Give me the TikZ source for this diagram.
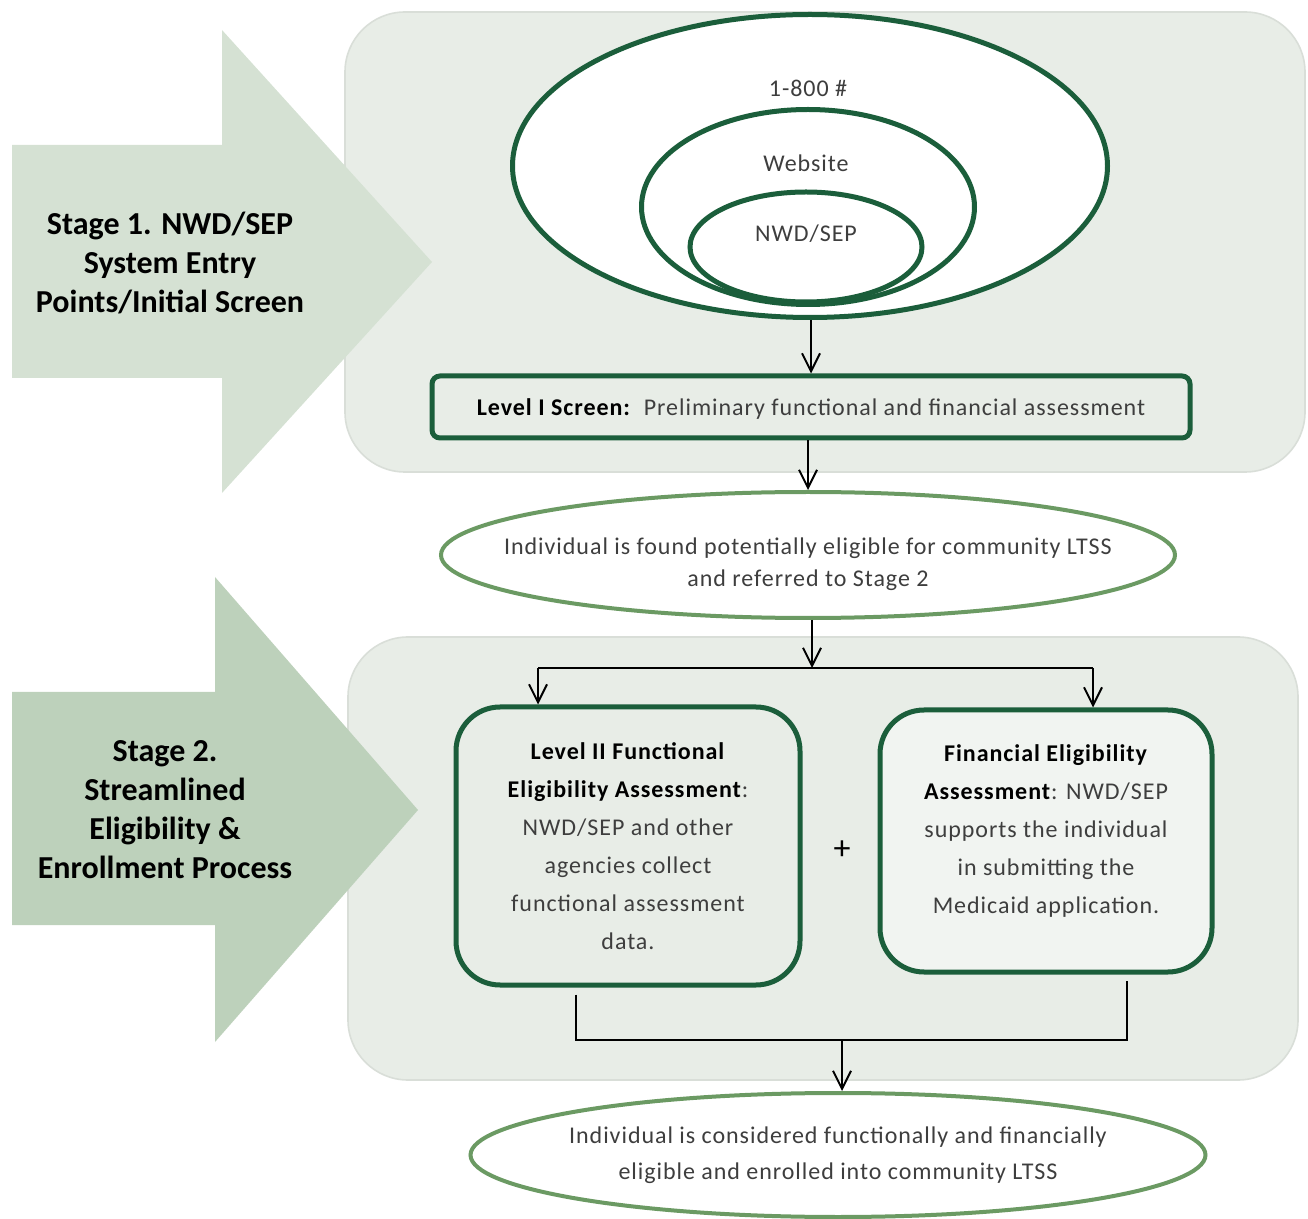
\documentclass[tikz,border=0pt]{standalone}
\usepackage{fontspec}
\setmainfont{Carlito}
\usetikzlibrary{shapes.geometric,arrows.meta}

\definecolor{darkgreen}{HTML}{1B5E3B}
\definecolor{ovalgreen}{HTML}{6B9A63}
\definecolor{panelfill}{HTML}{E8EDE7}
\definecolor{paneledge}{HTML}{D9DED8}
\definecolor{arrowone}{HTML}{D5E1D3}
\definecolor{arrowtwo}{HTML}{BDD1BB}
\definecolor{bodygray}{HTML}{3E3E3E}

\newfontfamily\spacedfont[LetterSpace=4]{Carlito}

\tikzset{
  panel/.style={fill=panelfill, draw=paneledge, line width=0.8pt, rounded corners=30pt},
  ring/.style={ellipse, draw=darkgreen, line width=2.5pt, fill=white, inner sep=0pt},
  greenbox/.style={draw=darkgreen, line width=2.5pt, inner sep=0pt},
  oval/.style={ellipse, draw=ovalgreen, line width=2pt, fill=white, inner sep=0pt},
  bodytext/.style={align=center, text=bodygray, font=\spacedfont\fontsize{12}{16}\selectfont},
  boxtext/.style={align=center, text=bodygray, font=\spacedfont\fontsize{12}{19}\selectfont},
  stagetext/.style={align=center, font=\fontsize{16}{19.5}\selectfont\bfseries},
  flow/.style={line width=1pt, -{Straight Barb[length=9pt,width=9pt]}},
  link/.style={line width=1pt},
}

\begin{document}
\begin{tikzpicture}[x=0.5pt, y=-0.5pt]
  \useasboundingbox (0,0) rectangle (1308,1219);

  % background panels
  \draw[panel] (345,12) rectangle (1305,472);
  \draw[panel] (348,637) rectangle (1298,1080);

  % stage arrows
  \fill[arrowone] (12,145) -- (222,145) -- (222,30) -- (432,262) -- (222,493) -- (222,378) -- (12,378) -- cycle;
  \fill[arrowtwo] (12,692) -- (215,692) -- (215,577) -- (418,810) -- (215,1042) -- (215,925) -- (12,925) -- cycle;
  \node[stagetext] (stageone) at (170,263) {Stage 1. NWD/SEP\\System Entry\\Points/Initial Screen};
  \node[stagetext] (stagetwo) at (165,810) {Stage 2.\\Streamlined\\Eligibility \&\\Enrollment Process};

  % entry points
  \node[ring, minimum width=297.5pt, minimum height=151.5pt] (phone) at (810,166) {};
  \node[ring, minimum width=166.5pt, minimum height=97.5pt] (website) at (808,207) {};
  \node[ring, minimum width=116pt, minimum height=55pt] (entry) at (806,247) {};
  \node[bodytext] (phonelbl) at (808,88) {1-800 \#};
  \node[bodytext] (weblbl) at (806,163) {Website};
  \node[bodytext] (entrylbl) at (806,234) {NWD/SEP};

  \node[greenbox, rounded corners=4pt, minimum width=379pt, minimum height=31pt] (screen) at (811,407) {};
  \node[bodytext] (screenlbl) at ([yshift=-1pt]screen.center) {\textcolor{black}{\textbf{Level I Screen:}}~~Preliminary functional and financial assessment};

  \node[oval, minimum width=367pt, minimum height=63pt] (found) at (808,555) {};
  \node[bodytext] (foundlbl) at ([yshift=-4.5pt]found.center) {Individual is found potentially eligible for community LTSS\\and referred to Stage 2};

  % stage 2 boxes
  \node[greenbox, rounded corners=22pt, fill=panelfill, minimum width=172pt, minimum height=139pt] (functional) at (628,846) {};
  \node[boxtext] (functionallbl) at (functional.center) {\textcolor{black}{\textbf{Level II Functional}}\\\textcolor{black}{\textbf{Eligibility Assessment}}:\\NWD/SEP and other\\agencies collect\\functional assessment\\data.};
  \node[greenbox, rounded corners=22pt, fill=panelfill!60!white, minimum width=166pt, minimum height=131pt] (financial) at (1046,841) {};
  \node[boxtext] (financiallbl) at ([yshift=5pt]financial.center) {\textcolor{black}{\textbf{Financial Eligibility}}\\\textcolor{black}{\textbf{Assessment}}: NWD/SEP\\supports the individual\\in submitting the\\Medicaid application.};
  \node[font=\fontsize{17}{17}\selectfont] (plus) at (842,850) {+};

  \node[oval, minimum width=367.5pt, minimum height=62pt] (enrolled) at (838,1155) {};
  \node[bodytext, font=\spacedfont\fontsize{12}{18}\selectfont] (enrolledlbl) at (enrolled.center) {Individual is considered functionally and financially\\eligible and enrolled into community LTSS};

  % connectors
  \coordinate (split) at (812,668);
  \coordinate (splitL) at (538,668);
  \coordinate (splitR) at (1093,668);
  \coordinate (joinL) at (576,1040);
  \coordinate (joinR) at (1127,1040);
  \coordinate (merge) at (842,1040);

  \draw[flow] (phone.south -| screen.north) -- (screen.north);
  \draw[flow] (screen.south -| found.north) -- (found.north);
  \draw[flow] (found.south -| split) -- (split);
  \draw[link] (splitL) -- (splitR);
  \draw[flow] (splitL) -- (splitL |- functional.north);
  \draw[flow] (splitR) -- (splitR |- financial.north);
  \draw[link, shorten <=3.5pt, shorten >=3pt] (functional.south -| joinL) -- (joinL) -- (joinR) -- (financial.south -| joinR);
  \draw[flow] (merge) -- (merge |- enrolled.north);
\end{tikzpicture}
\end{document}
